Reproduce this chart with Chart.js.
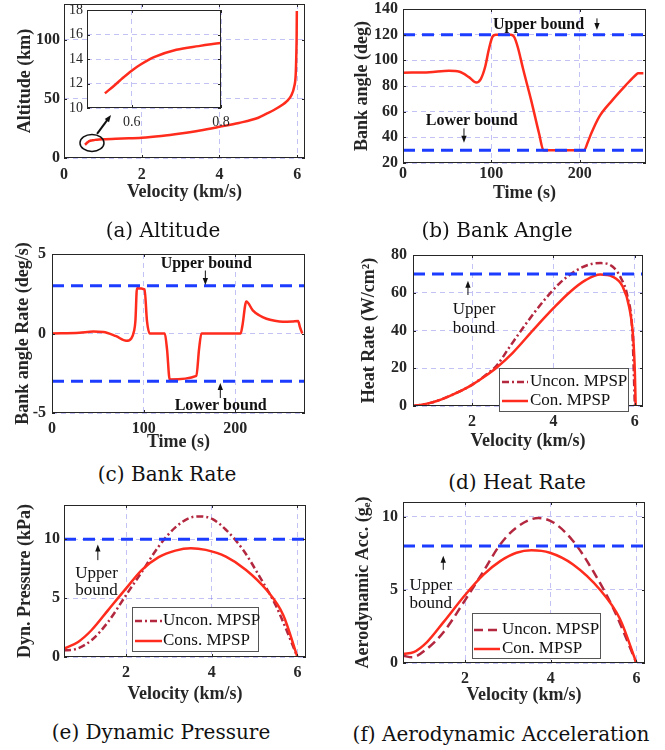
<!DOCTYPE html>
<html>
<head>
<meta charset="utf-8">
<script src="https://cdn.jsdelivr.net/npm/chart.js"></script>
<style>
  body { margin: 0; background: #fff; width: 665px; height: 750px; position: relative; overflow: hidden; }
  canvas { position: absolute; }
  .cap { position: absolute; font-family: "DejaVu Serif", serif; font-size: 20px; color: #111;
         transform: translate(-50%, -50%); white-space: nowrap; }
</style>
</head>
<body>
<canvas id="figA"></canvas>
<canvas id="figAzoom"></canvas>
<canvas id="figB"></canvas>
<canvas id="figC"></canvas>
<canvas id="figD"></canvas>
<canvas id="figE"></canvas>
<canvas id="figF"></canvas>
<div class="cap" style="left:163px;top:230px">(a) Altitude</div>
<div class="cap" style="left:497px;top:230px">(b) Bank Angle</div>
<div class="cap" style="left:167px;top:474px">(c) Bank Rate</div>
<div class="cap" style="left:517px;top:482px">(d) Heat Rate</div>
<div class="cap" style="left:161px;top:732px">(e) Dynamic Pressure</div>
<div class="cap" style="left:501px;top:734px">(f) Aerodynamic Acceleration</div>
<script>
// ── datos ─────────────
// (a) altitud vs velocidad
const velA = [0.54, 0.56, 0.58, 0.60, 0.62, 0.65, 0.70, 0.75, 0.80, 0.90, 1.00, 1.50, 2.00, 2.50, 3.00, 3.50, 4.00, 4.50, 5.00, 5.20, 5.40, 5.60, 5.75, 5.85, 5.92, 5.96, 5.975, 5.985, 5.99];
const altA = [11.2, 11.8, 12.45, 13.05, 13.55, 14.15, 14.75, 15.05, 15.3, 15.65, 15.9, 16.5, 17.1, 18.6, 20.7, 23.2, 26.3, 29.6, 34.0, 37.2, 40.5, 44.5, 48.5, 53, 60, 70, 85, 102, 124];
const xLimA = [0, 6.2], yLimA = [0, 130], xTicksA = [0, 2, 4, 6], yTicksA = [0, 50, 100];
const xLimAz = [0.5, 0.8], yLimAz = [10, 18], xTicksAz = [0.6, 0.8], yTicksAz = [10, 12, 14, 16, 18];

// (b) ángulo de alabeo
const tB    = [0, 30, 52, 64, 75, 83, 88, 93, 97, 101, 105, 110, 122, 126, 130, 136, 145, 154, 159, 205, 209, 213, 222, 237, 252, 264, 266, 272];
const bankB = [90.3, 90.8, 91.8, 91.1, 86.7, 82.8, 85.4, 95, 108, 118, 120, 120, 120, 118, 110, 93, 69, 43, 30, 30, 36, 43, 56, 69, 80.5, 89, 90, 90];
const bankBounds = [120, 30];
const xLimB = [0, 275], yLimB = [20, 140], xTicksB = [0, 100, 200], yTicksB = [20, 40, 60, 80, 100, 120, 140];

// (c) tasa de alabeo
const tC    = [0, 30, 45, 56, 70, 81, 86.5, 89.5, 91, 92.7, 101, 103.6, 106.5, 123, 125.5, 128.4, 157.5, 160.4, 163, 205.8, 207.6, 212, 219, 226, 234, 243, 252, 262, 268.5, 270.5, 273];
const rateC = [0, 0.05, 0.12, 0.1, -0.17, -0.46, -0.31, 0.15, 0.8, 2.85, 2.77, 0.8, 0, 0, -1.0, -2.9, -2.67, -1.0, 0, 0, 0.45, 2.02, 1.46, 1.15, 0.93, 0.8, 0.74, 0.76, 0.79, 0.4, 0];
const rateBounds = [3, -3];
const xLimC = [0, 276], yLimC = [-5, 5], xTicksC = [0, 100, 200], yTicksC = [-5, 0, 5];

// (d) flujo de calor
const velDc   = [0.55, 0.8, 1.0, 1.25, 1.5, 1.75, 2.0, 2.3, 2.6, 3.0, 3.5, 4.0, 4.4, 4.8, 5.15, 5.45, 5.7, 5.86, 5.96, 6.0, 6.02];
const heatCon = [0.1, 0.8, 1.8, 3.5, 5.8, 8.3, 11.2, 15.5, 20.3, 28.2, 40.2, 51.8, 60.3, 66.8, 69.7, 68.6, 63.3, 52.5, 36.0, 18.0, 0];
const velDu     = [0.55, 0.8, 1.0, 1.25, 1.5, 1.75, 2.0, 2.3, 2.6, 2.92, 3.33, 3.74, 4.15, 4.56, 4.96, 5.17, 5.45, 5.66, 5.82, 5.94, 6.0];
const heatUncon = [0.1, 0.8, 1.8, 3.5, 5.8, 8.3, 11.2, 15.8, 21.3, 31.2, 43.7, 55.2, 65.0, 71.8, 75.4, 75.7, 73.9, 67.7, 57.9, 38.3, 0];
const heatBound = 70;
const xLimD = [0.55, 6.2], yLimD = [0, 80], xTicksD = [2, 4, 6], yTicksD = [0, 20, 40, 60, 80];

// (e) presión dinámica
const velEc  = [0.55, 0.88, 1.19, 1.58, 2.0, 2.37, 2.76, 3.15, 3.51, 3.86, 4.33, 4.8, 5.28, 5.67, 6.0];
const qCon   = [0.71, 1.28, 2.27, 3.98, 5.82, 7.39, 8.47, 9.03, 9.23, 9.09, 8.52, 7.39, 5.68, 3.55, 0];
const velEu  = [0.55, 0.8, 1.19, 1.58, 2.0, 2.37, 2.76, 3.15, 3.55, 3.74, 4.02, 4.33, 4.73, 5.12, 5.51, 6.0];
const qUncon = [0.57, 0.65, 1.42, 2.98, 5.26, 7.24, 9.38, 11.0, 11.88, 11.93, 11.7, 10.8, 9.1, 6.8, 4.26, 0];
const qBound = 10;
const xLimE = [0.55, 6.2], yLimE = [0, 12.9], xTicksE = [2, 4, 6], yTicksE = [0, 5, 10];

// (f) aceleración aerodinámica
const velFc    = [0.56, 0.8, 1.11, 1.5, 2.0, 2.43, 2.82, 3.2, 3.55, 3.98, 4.52, 5.15, 5.61, 6.0];
const accCon   = [0.62, 0.74, 1.43, 2.81, 4.65, 6.04, 6.96, 7.53, 7.7, 7.53, 6.73, 5.0, 3.04, 0];
const velFu    = [0.56, 0.76, 1.11, 1.5, 2.0, 2.43, 2.82, 3.2, 3.71, 4.06, 4.52, 4.99, 5.46, 6.0];
const accUncon = [0.5, 0.39, 0.97, 2.12, 4.3, 6.27, 8.1, 9.26, 9.9, 9.6, 8.34, 6.27, 3.73, 0];
const accBound = 8;
const xLimF = [0.55, 6.2], yLimF = [0, 11], xTicksF = [2, 4, 6], yTicksF = [0, 5, 10];

// ── estilo ─────────────
const SERIF = "'Liberation Serif','Times New Roman',serif";
const INK = '#262626';
const GRID = 'rgba(110,110,230,0.42)';
const RED = '#ff2b1c';
const DARKRED = '#b3273f';
const BLUE = '#1c3cff';
const TICKF = { family: SERIF, size: 16, weight: 'bold', lineHeight: 1.2 };
const TITLEF = { family: SERIF, size: 18, weight: 'bold', lineHeight: 1.2 };
const NOTE_B = 'bold 16px ' + SERIF;
const NOTE_N = '17px ' + SERIF;

function pts(xs, ys) { return xs.map((v, i) => ({ x: v, y: ys[i] })); }

function curve(xs, ys, color, dash, label, order) {
    return { label: label || '', data: pts(xs, ys), showLine: true, borderColor: color, borderWidth: 2.5,
             borderDash: dash || [], borderJoinStyle: 'round', pointRadius: 0,
             cubicInterpolationMode: 'monotone', order: order || 1 };
}

function bound(lim, v) {
    return { label: '', data: [{ x: lim[0], y: v }, { x: lim[1], y: v }], showLine: true, borderColor: BLUE,
             borderWidth: 3, borderDash: [12, 7], pointRadius: 0, order: 0 };
}

function drawArrow(ctx, x1, y1, x2, y2, w, head) {
    const ang = Math.atan2(y2 - y1, x2 - x1), c = Math.cos(ang), s = Math.sin(ang);
    ctx.lineWidth = w;
    ctx.beginPath();
    ctx.moveTo(x1, y1);
    ctx.lineTo(x2 - c * head * 0.7, y2 - s * head * 0.7);
    ctx.stroke();
    const bx = x2 - c * head, by = y2 - s * head, hw = head * 0.38;
    ctx.beginPath();
    ctx.moveTo(x2, y2);
    ctx.lineTo(bx - s * hw, by + c * hw);
    ctx.lineTo(bx + s * hw, by - c * hw);
    ctx.closePath();
    ctx.fill();
}

// caja, marcas hacia dentro, notas y leyenda al estilo MATLAB
const matlabLook = {
    id: 'matlabLook',
    beforeDraw(chart, args, o) {
        if (!o.fill) return;
        const a = chart.chartArea, ctx = chart.ctx;
        ctx.save();
        ctx.fillStyle = '#fff';
        ctx.fillRect(a.left, a.top, a.width, a.height);
        ctx.restore();
    },
    afterDraw(chart, args, o) {
        const { ctx, chartArea: a } = chart;
        const sx = chart.scales.x, sy = chart.scales.y;
        ctx.save();
        ctx.strokeStyle = INK;
        ctx.lineWidth = 1;
        ctx.beginPath();
        sx.ticks.forEach(t => {
            const p = Math.round(sx.getPixelForValue(t.value)) + 0.5;
            ctx.moveTo(p, a.bottom); ctx.lineTo(p, a.bottom - 3);
            ctx.moveTo(p, a.top); ctx.lineTo(p, a.top + 3);
        });
        sy.ticks.forEach(t => {
            const p = Math.round(sy.getPixelForValue(t.value)) + 0.5;
            ctx.moveTo(a.left, p); ctx.lineTo(a.left + 3, p);
            ctx.moveTo(a.right, p); ctx.lineTo(a.right - 3, p);
        });
        ctx.stroke();
        ctx.strokeRect(Math.round(a.left) + 0.5, Math.round(a.top) + 0.5, Math.round(a.width) - 1, Math.round(a.height) - 1);

        (o.notes || []).forEach(n => {
            ctx.fillStyle = '#111';
            ctx.strokeStyle = '#111';
            if (n.text) {
                ctx.font = n.font;
                ctx.textAlign = n.align || 'left';
                ctx.textBaseline = 'middle';
                ctx.fillText(n.text, sx.getPixelForValue(n.x), sy.getPixelForValue(n.y));
            }
            if (n.arrow) {
                const q = n.arrow;
                drawArrow(ctx, sx.getPixelForValue(q[0]), sy.getPixelForValue(q[1]),
                          sx.getPixelForValue(q[2]), sy.getPixelForValue(q[3]), n.w || 1, n.head || 7);
            }
            if (n.ellipse) {
                ctx.lineWidth = n.w || 1.5;
                ctx.beginPath();
                ctx.ellipse(sx.getPixelForValue(n.x), sy.getPixelForValue(n.y), n.ellipse[0], n.ellipse[1], 0, 0, Math.PI * 2);
                ctx.stroke();
            }
        });

        if (o.legend) {
            const L = o.legend, bx = a.left + L.x, by = a.top + L.y;
            ctx.fillStyle = '#fff';
            ctx.fillRect(bx, by, L.w, L.h);
            ctx.strokeStyle = '#555';
            ctx.lineWidth = 1;
            ctx.strokeRect(bx + 0.5, by + 0.5, L.w, L.h);
            ctx.font = NOTE_N;
            ctx.textAlign = 'left';
            ctx.textBaseline = 'middle';
            chart.data.datasets.filter(d => d.label).forEach((d, i) => {
                const yy = by + L.rows[i];
                ctx.strokeStyle = d.borderColor;
                ctx.lineWidth = d.borderWidth;
                ctx.setLineDash(d.borderDash || []);
                ctx.beginPath();
                ctx.moveTo(bx + L.sample[0], yy);
                ctx.lineTo(bx + L.sample[1], yy);
                ctx.stroke();
                ctx.setLineDash([]);
                ctx.fillStyle = '#111';
                ctx.fillText(d.label, bx + L.text, yy);
            });
        }
        ctx.restore();
    }
};

// cv: lienzo [x, y, w, h]; pa: área del gráfico [izq, arriba, der, abajo] en la página
function panel(id, cv, pa, o) {
    const el = document.getElementById(id);
    el.width = cv[2];
    el.height = cv[3];
    el.style.left = cv[0] + 'px';
    el.style.top = cv[1] + 'px';
    const tf = o.tickFont || TICKF;
    const tlh = tf.size * 1.2 / 2, ttl = TITLEF.size * 1.2 / 2;
    return new Chart(el, {
        type: 'scatter',
        data: { datasets: o.datasets },
        options: {
            responsive: false,
            animation: false,
            events: [],
            layout: { padding: { left: 0, top: pa[1] - cv[1], right: cv[0] + cv[2] - pa[2], bottom: 0 } },
            scales: {
                x: {
                    type: 'linear', min: o.xLim[0], max: o.xLim[1],
                    afterBuildTicks: s => { s.ticks = o.xTicks.map(v => ({ value: v })); },
                    afterFit: s => { s.height = cv[1] + cv[3] - pa[3]; s.paddingLeft = 0; s.paddingRight = 0; },
                    grid: { color: GRID, lineWidth: 1, drawTicks: false },
                    border: { display: false, dash: [5, 4] },
                    ticks: { padding: o.xTickY - pa[3] - tlh, color: INK, font: tf, maxRotation: 0, autoSkip: false,
                             callback: v => String(v) },
                    title: o.xTitle
                        ? { display: true, text: o.xTitle, color: INK, font: TITLEF,
                            padding: { top: 0, bottom: cv[1] + cv[3] - o.xTitleY - ttl } }
                        : { display: false }
                },
                y: {
                    type: 'linear', min: o.yLim[0], max: o.yLim[1],
                    afterBuildTicks: s => { s.ticks = o.yTicks.map(v => ({ value: v })); },
                    afterFit: s => { s.width = pa[0] - cv[0]; s.paddingTop = 0; s.paddingBottom = 0; },
                    grid: { color: GRID, lineWidth: 1, drawTicks: false },
                    border: { display: false, dash: [5, 4] },
                    ticks: { padding: pa[0] - o.yTickR, color: INK, font: tf, autoSkip: false,
                             callback: v => String(v) },
                    title: o.yTitle
                        ? { display: true, text: o.yTitle, color: INK, font: TITLEF,
                            padding: { top: o.yTitleX - cv[0] - ttl, bottom: 0 } }
                        : { display: false }
                }
            },
            plugins: {
                legend: { display: false },
                tooltip: { enabled: false },
                matlabLook: o.look || {}
            }
        },
        plugins: [matlabLook]
    });
}

// ── (a) Altitud ─────────────
panel('figA', [0, 0, 330, 215], [64, 4, 305, 158], {
    datasets: [curve(velA, altA, RED)],
    xLim: xLimA, yLim: yLimA, xTicks: xTicksA, yTicks: yTicksA,
    xTitle: 'Velocity (km/s)', yTitle: 'Altitude (km)',
    yTitleX: 25, yTickR: 60, xTickY: 175, xTitleY: 192,
    look: { notes: [
        { ellipse: [12, 8.5], x: 0.72, y: 12.7, w: 1.5 },
        { arrow: [0.85, 20.3, 1.21, 36.3], w: 2, head: 7 }
    ] }
});

panel('figAzoom', [58, 2, 190, 130], [87, 10, 221, 108], {
    datasets: [curve(velA, altA, RED)],
    xLim: xLimAz, yLim: yLimAz, xTicks: xTicksAz, yTicks: yTicksAz,
    tickFont: { family: SERIF, size: 14, weight: 'normal', lineHeight: 1.2 },
    yTickR: 83, xTickY: 122,
    look: { fill: true }
});

// ── (b) Ángulo de alabeo ─────────────
panel('figB', [330, 0, 335, 215], [403, 9, 646, 163], {
    datasets: [bound(xLimB, bankBounds[0]), bound(xLimB, bankBounds[1]), curve(tB, bankB, RED)],
    xLim: xLimB, yLim: yLimB, xTicks: xTicksB, yTicks: yTicksB,
    xTitle: 'Time (s)', yTitle: 'Bank angle (deg)',
    yTitleX: 362, yTickR: 398, xTickY: 174, xTitleY: 193,
    look: { notes: [
        { text: 'Upper bound', x: 101.8, y: 128, font: NOTE_B },
        { arrow: [219.5, 132.7, 219.5, 123.6], w: 1, head: 7 },
        { text: 'Lower bound', x: 25.7, y: 52.9, font: NOTE_B },
        { arrow: [69, 47, 69, 35.8], w: 1, head: 7 }
    ] }
});

// ── (c) Tasa de alabeo ─────────────
panel('figC', [0, 240, 330, 220], [52, 254, 305, 413], {
    datasets: [bound(xLimC, rateBounds[0]), bound(xLimC, rateBounds[1]), curve(tC, rateC, RED)],
    xLim: xLimC, yLim: yLimC, xTicks: xTicksC, yTicks: yTicksC,
    xTitle: 'Time (s)', yTitle: 'Bank angle Rate (deg/s)',
    yTitleX: 23, yTickR: 46, xTickY: 429, xTitleY: 442,
    look: { notes: [
        { text: 'Upper bound', x: 118.5, y: 4.41, font: NOTE_B },
        { arrow: [167.3, 3.96, 167.3, 3.05], w: 1, head: 7 },
        { text: 'Lower bound', x: 133.8, y: -4.52, font: NOTE_B },
        { arrow: [183.6, -4.06, 183.6, -3.12], w: 1, head: 7 }
    ] }
});

// ── (d) Flujo de calor ─────────────
panel('figD', [330, 240, 335, 220], [413, 255, 643, 406], {
    datasets: [bound(xLimD, heatBound),
               curve(velDu, heatUncon, DARKRED, [7, 3, 2, 3], 'Uncon. MPSP', 2),
               curve(velDc, heatCon, RED, [], 'Con. MPSP', 1)],
    xLim: xLimD, yLim: yLimD, xTicks: xTicksD, yTicks: yTicksD,
    xTitle: 'Velocity (km/s)', yTitle: 'Heat Rate (W/cm²)',
    yTitleX: 369, yTickR: 407, xTickY: 422, xTitleY: 441,
    look: {
        notes: [
            { text: 'Upper', x: 2.05, y: 51.1, font: NOTE_N, align: 'center' },
            { text: 'bound', x: 2.05, y: 41.3, font: NOTE_N, align: 'center' },
            { arrow: [1.9, 58.8, 1.9, 66.4], w: 1, head: 7 }
        ],
        legend: { x: 86, y: 113, w: 129, h: 43, rows: [14, 33], sample: [3, 29], text: 31 }
    }
});

// ── (e) Presión dinámica ─────────────
panel('figE', [0, 495, 330, 215], [64, 505, 306, 657], {
    datasets: [bound(xLimE, qBound),
               curve(velEu, qUncon, DARKRED, [7, 3, 2, 3], 'Uncon. MPSP', 2),
               curve(velEc, qCon, RED, [], 'Cons. MPSP', 1)],
    xLim: xLimE, yLim: yLimE, xTicks: xTicksE, yTicks: yTicksE,
    xTitle: 'Velocity (km/s)', yTitle: 'Dyn. Pressure (kPa)',
    yTitleX: 25, yTickR: 60, xTickY: 673, xTitleY: 694,
    look: {
        notes: [
            { text: 'Upper', x: 1.31, y: 7.12, font: NOTE_N, align: 'center' },
            { text: 'bound', x: 1.31, y: 5.62, font: NOTE_N, align: 'center' },
            { arrow: [1.34, 8.22, 1.34, 9.55], w: 1, head: 7 }
        ],
        legend: { x: 68, y: 102, w: 126, h: 44, rows: [14, 34], sample: [3, 30], text: 31 }
    }
});

// ── (f) Aceleración aerodinámica ─────────────
panel('figF', [330, 495, 335, 215], [403, 502, 645, 663], {
    datasets: [bound(xLimF, accBound),
               curve(velFu, accUncon, DARKRED, [9, 5], 'Uncon. MPSP', 2),
               curve(velFc, accCon, RED, [], 'Con. MPSP', 1)],
    xLim: xLimF, yLim: yLimF, xTicks: xTicksF, yTicks: yTicksF,
    xTitle: 'Velocity (km/s)', yTitle: 'Aerodynamic Acc. (gₑ)',
    yTitleX: 363, yTickR: 398, xTickY: 679, xTitleY: 695,
    look: {
        notes: [
            { text: 'Upper', x: 1.2, y: 5.3, font: NOTE_N, align: 'center' },
            { text: 'bound', x: 1.2, y: 4.04, font: NOTE_N, align: 'center' },
            { arrow: [1.49, 6.37, 1.49, 7.33], w: 1, head: 7 }
        ],
        legend: { x: 69, y: 111, w: 128, h: 45, rows: [17, 36], sample: [2, 28], text: 30 }
    }
});
</script>
</body>
</html>
